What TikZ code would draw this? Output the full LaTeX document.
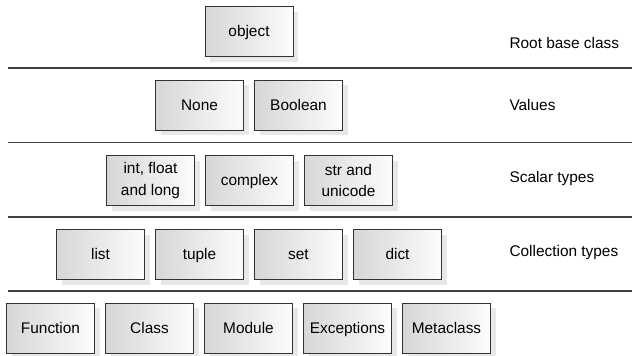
\documentclass[tikz,border=0pt]{standalone}
\usepackage{fontspec}
\setmainfont{Liberation Sans}
\usetikzlibrary{shadows}

\begin{document}
\begin{tikzpicture}[x=1pt,y=1pt,node distance=99pt,font=\fontsize{15.4}{21.5}\selectfont]
    \tikzstyle{typebox}=[rectangle,draw=black!80,line width=0.9pt,left color=black!16,right color=black!1,
    minimum width=88pt,minimum height=50pt,align=center,inner sep=2pt,text height=1.05em,text depth=0.05em,
    drop shadow={shadow xshift=5pt,shadow yshift=-5pt,fill=black!9,opacity=1}]
    \tikzstyle{twoline}=[text height=,text depth=]
    \tikzstyle{band}=[anchor=west]
    \tikzstyle{divider}=[draw=black!75,line width=1.2pt]

    \useasboundingbox (0,0) rectangle (632,-356);

    % root
    \node [typebox] (object) at (249,-31.5) {object};
    % values
    \node [typebox] (none) at (199.5,-105) {None};
    \node [typebox] (bool) [right of=none] {Boolean};
    % scalars
    \node [typebox,twoline] (int) at (150.5,-180.5) {int, float\\and long};
    \node [typebox] (complex) [right of=int] {complex};
    \node [typebox,twoline] (str) [right of=complex] {str and\\unicode};
    % collections
    \node [typebox] (list) at (100.5,-254.5) {list};
    \node [typebox] (tuple) [right of=list] {tuple};
    \node [typebox] (set) [right of=tuple] {set};
    \node [typebox] (dict) [right of=set] {dict};
    % others
    \node [typebox] (func) at (50.5,-328) {Function};
    \node [typebox] (class) [right of=func] {Class};
    \node [typebox] (module) [right of=class] {Module};
    \node [typebox] (exc) [right of=module] {Exceptions};
    \node [typebox] (meta) [right of=exc] {Metaclass};

    % band labels
    \node [band] (lroot) at (506,-43) {Root base class};
    \node [band] (lval) at (506,-105) {Values};
    \node [band] (lscal) at (506,-179) {Scalar types};
    \node [band] (lcoll) at (506,-253) {Collection types};

    \foreach \y in {68,142.5,217,291}
        \draw [divider] (8,-\y) -- (632,-\y);

\end{tikzpicture}
\end{document}
